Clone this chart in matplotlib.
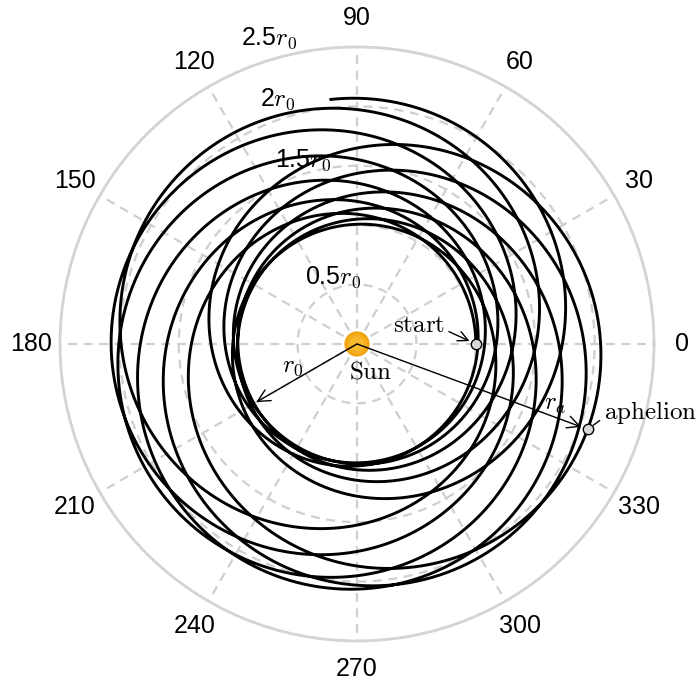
import numpy as np
import matplotlib
matplotlib.use("Agg")
import matplotlib.pyplot as plt

plt.rcParams['font.family'] = ['Liberation Sans', 'DejaVu Sans']
plt.rcParams['mathtext.fontset'] = 'cm'

# Orbit parameters (units of r0)
r0 = 1.0                   # starting / perihelion distance
ra = 2.07                  # aphelion distance
apsidal_angle_deg = 339.7  # angle swept from perihelion to aphelion
half_cycles = 13           # perihelion-to-aphelion passages drawn

theta_ticks = [0, 30, 60, 90, 120, 150, 180, 210, 240, 270, 300, 330]
r_ticks = [0.5, 1.0, 1.5, 2.0, 2.5]
r_tick_labels = ['0.5$r_0$', '', '1.5$r_0$', '2$r_0$', '2.5$r_0$']

# Precessing conic: 1/r oscillates harmonically in theta
theta_end = np.radians(apsidal_angle_deg * half_cycles)
theta = np.linspace(0.0, theta_end, 10000)
u_mean = 0.5 * (1.0 / r0 + 1.0 / ra)
u_amp = 0.5 * (1.0 / r0 - 1.0 / ra)
r = 1.0 / (u_mean + u_amp * np.cos(np.pi * theta / np.radians(apsidal_angle_deg)))

fig = plt.figure(figsize=(7.0, 6.86), dpi=100)
ax = fig.add_axes([0.0857, 0.0656, 0.8486, 0.866], projection='polar')

ax.set_ylim(0, 2.5)
ax.set_yticks(r_ticks)
ax.set_yticklabels([])
ax.set_xticks(np.radians(theta_ticks))
ax.set_xticklabels([str(t) for t in theta_ticks], fontsize=18)
ax.tick_params(axis='x', pad=10)
ax.grid(True, color='#cfcfcf', linestyle=(0, (4, 3)), linewidth=1.6)
ax.spines['polar'].set_color('#d4d4d4')
ax.spines['polar'].set_linewidth(2.0)

# radial labels just outside each circle, along the ~107 deg direction
label_angles = [110, 107, 106.5, 108, 106]
label_pads = [0.10, 0.12, 0.11, 0.17, 0.18]
for rv, lab, ang, pad in zip(r_ticks, r_tick_labels, label_angles, label_pads):
    if lab:
        ax.text(np.radians(ang), rv + pad, lab, fontsize=18,
                ha='center', va='center', clip_on=False)

# orbit
ax.plot(theta, r, color='black', linewidth=2.1, zorder=3)

# Sun
for s, c in [(330, '#f2a10f'), (220, '#f5ad1e'), (110, '#f8b92c')]:
    ax.scatter([0], [0], s=s, color=c, edgecolors='none', zorder=6)
ax.annotate(r'$\mathrm{Sun}$', xy=(0, 0), xytext=(14, -28),
            textcoords='offset pixels', ha='center', va='center',
            fontsize=18, zorder=7)

# r0 arrow
ax.annotate('', xy=(np.radians(210), 0.98 * r0), xytext=(0, 0),
            arrowprops=dict(arrowstyle='->', color='black', lw=1.0,
                            shrinkA=0, shrinkB=0, mutation_scale=22),
            zorder=7)
ax.annotate(r'$r_0$', xy=(0, 0), xytext=(-64, -22), textcoords='offset pixels',
            ha='center', va='center', fontsize=18)

# ra arrow
apo = np.radians(apsidal_angle_deg)
ax.annotate('', xy=(apo, ra), xytext=(0, 0),
            arrowprops=dict(arrowstyle='->', color='black', lw=1.0,
                            shrinkA=0, shrinkB=5, mutation_scale=22),
            zorder=7)
ax.annotate(r'$r_a$', xy=(apo, 1.76), xytext=(2, 13), textcoords='offset pixels',
            ha='center', va='center', fontsize=18)

# start and aphelion markers
ax.plot([0], [r0], 'o', ms=7.5, mfc='#d8d8d8', mec='black', mew=1.0, zorder=8)
ax.plot([apo], [ra], 'o', ms=7.5, mfc='#d8d8d8', mec='black', mew=1.0, zorder=8)

ax.annotate(r'$\mathrm{start}$', xy=(0, r0), xytext=(-57, 19),
            textcoords='offset pixels', ha='center', va='center', fontsize=18,
            arrowprops=dict(arrowstyle='->', color='black', lw=1.0,
                            shrinkA=1, shrinkB=5, mutation_scale=18,
                            relpos=(1.0, 0.3)), zorder=7)
ax.annotate(r'$\mathrm{aphelion}$', xy=(apo, ra), xytext=(16, 17),
            textcoords='offset pixels', ha='left', va='center', fontsize=18,
            arrowprops=dict(arrowstyle='-', color='black', lw=1.0,
                            shrinkA=1, shrinkB=5, relpos=(0.0, 0.3)),
            annotation_clip=False, zorder=7)

fig.savefig('out.png', dpi=100)
